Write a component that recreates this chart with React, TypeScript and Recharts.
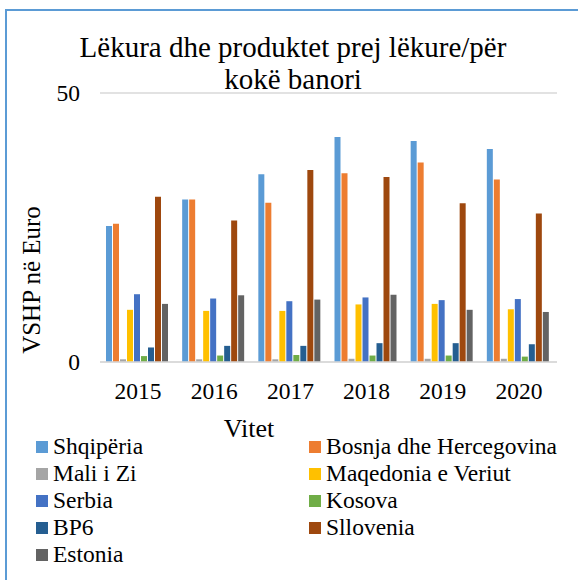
import React from 'react';
import { BarChart, Bar, XAxis, YAxis, CartesianGrid, Legend } from 'recharts';

const titleLines = ['Lëkura dhe produktet prej lëkure/për', 'kokë banori'];
const xTitle = 'Vitet';
const yTitle = 'VSHP në Euro';

const years = ['2015', '2016', '2017', '2018', '2019', '2020'];
const shqiperia = [25.3, 30.2, 34.9, 41.8, 41.1, 39.6];
const bosnja = [25.7, 30.2, 29.6, 35.1, 37.1, 33.9];
const maliIZi = [0.5, 0.5, 0.5, 0.6, 0.6, 0.6];
const maqedonia = [9.7, 9.5, 9.5, 10.7, 10.8, 9.8];
const serbia = [12.6, 11.8, 11.3, 12.0, 11.5, 11.7];
const kosova = [1.1, 1.2, 1.3, 1.2, 1.2, 1.0];
const bp6 = [2.7, 3.0, 3.0, 3.5, 3.5, 3.3];
const sllovenia = [30.7, 26.3, 35.7, 34.4, 29.5, 27.6];
const estonia = [10.8, 12.4, 11.6, 12.5, 9.7, 9.3];
const yTicks = [0, 50];

const seriesNames = [
  'Shqipëria',
  'Bosnja dhe Hercegovina',
  'Mali i Zi',
  'Maqedonia e Veriut',
  'Serbia',
  'Kosova',
  'BP6',
  'Sllovenia',
  'Estonia',
];
const seriesValues = [shqiperia, bosnja, maliIZi, maqedonia, serbia, kosova, bp6, sllovenia, estonia];
const seriesColors = ['#5B9BD5', '#ED7D31', '#A5A5A5', '#FFC000', '#4472C4', '#70AD47', '#255E91', '#9E480E', '#636363'];

const data = years.map((year, i) => {
  const row: Record<string, string | number> = { year };
  seriesValues.forEach((vals, s) => {
    row['s' + s] = vals[i];
  });
  return row;
});

const FONT = '"Liberation Serif", "Times New Roman", Times, serif';

const renderLegend = () => (
  <div
    style={{
      display: 'grid',
      gridTemplateColumns: '273px 269px',
      paddingLeft: 36,
      fontFamily: FONT,
      fontSize: 23.5,
      color: '#000',
    }}
  >
    {seriesNames.map((name, s) => (
      <div key={name} style={{ display: 'flex', alignItems: 'center', height: 27, whiteSpace: 'nowrap' }}>
        <span style={{ width: 12, height: 12, background: seriesColors[s], marginRight: 5, flex: 'none' }} />
        <span>{name}</span>
      </div>
    ))}
  </div>
);

export default function App() {
  return (
    <div
      style={{
        position: 'absolute',
        left: 0,
        top: 0,
        width: 578,
        height: 580,
        overflow: 'hidden',
        background: '#fff',
      }}
    >
      <div
        style={{
          position: 'absolute',
          left: 5,
          top: 9,
          width: 800,
          height: 800,
          borderLeft: '2px solid #5B9BD5',
          borderTop: '2px solid #5B9BD5',
        }}
      />
      <BarChart
        width={578}
        height={580}
        data={data}
        margin={{ top: 93, right: 21, left: 0, bottom: 188 }}
        barCategoryGap={6}
        barGap={1}
      >
        <CartesianGrid vertical={false} stroke="#d9d9d9" strokeWidth={1.5} />
        <XAxis
          dataKey="year"
          height={30}
          tickLine={false}
          tickSize={0}
          tickMargin={20}
          axisLine={{ stroke: '#d9d9d9', strokeWidth: 1.5 }}
          tick={{ fill: '#000', fontSize: 23.5, fontFamily: FONT }}
          label={{
            value: xTitle,
            content: () => (
              <text x={249} y={437} textAnchor="middle" fill="#000" fontSize={26} fontFamily={FONT}>
                {xTitle}
              </text>
            ),
          }}
        />
        <YAxis
          domain={[0, 50]}
          ticks={yTicks}
          width={100}
          axisLine={false}
          tickLine={false}
          tickSize={0}
          tickMargin={20}
          tick={{ fill: '#000', fontSize: 23.5, fontFamily: FONT }}
          label={{
            value: yTitle,
            content: () => (
              <text
                x={31}
                y={280}
                transform="rotate(-90 31 280)"
                textAnchor="middle"
                dominantBaseline="central"
                fill="#000"
                fontSize={25}
                fontFamily={FONT}
              >
                {yTitle}
              </text>
            ),
          }}
        />
        <Legend
          layout="horizontal"
          verticalAlign="middle"
          align="center"
          wrapperStyle={{ top: 433, left: 0, width: 578, margin: 0 }}
          content={renderLegend}
        />
        {seriesNames.map((name, s) => (
          <Bar key={name} dataKey={'s' + s} name={name} fill={seriesColors[s]} isAnimationActive={false} />
        ))}
      </BarChart>
      <div
        style={{
          position: 'absolute',
          left: 0,
          top: 31,
          width: 586,
          textAlign: 'center',
          fontFamily: FONT,
          fontSize: 29,
          lineHeight: '32px',
          color: '#000',
          pointerEvents: 'none',
        }}
      >
        {titleLines.map((l) => (
          <div key={l}>{l}</div>
        ))}
      </div>
    </div>
  );
}
